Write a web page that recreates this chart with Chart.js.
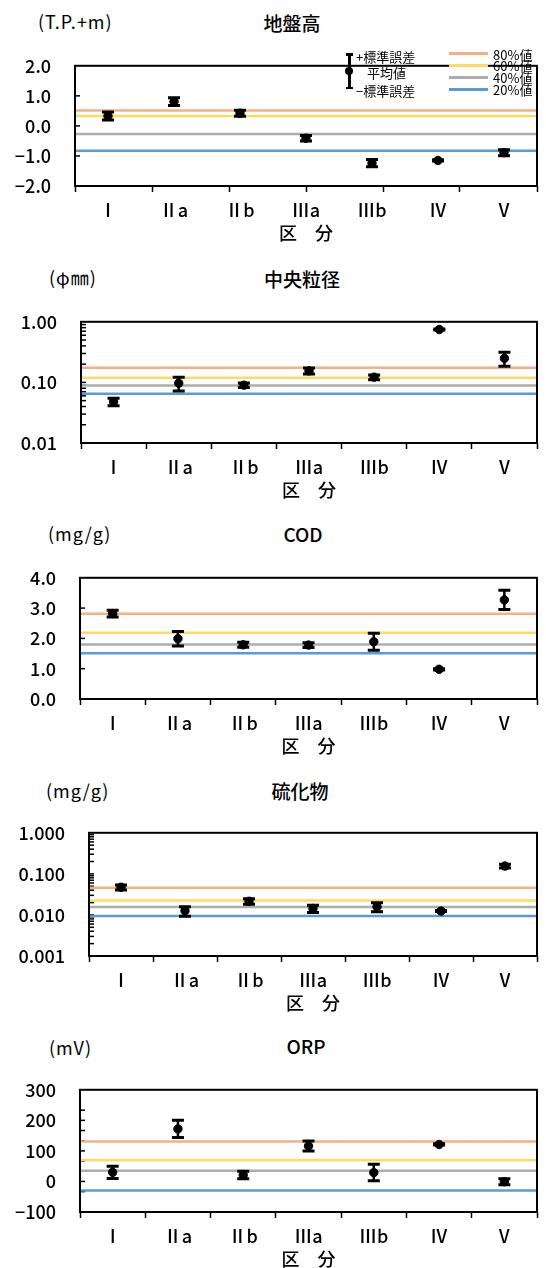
<!DOCTYPE html>
<html>
<head>
<meta charset="utf-8">
<script src="https://cdn.jsdelivr.net/npm/chart.js@4.4.0/dist/chart.umd.min.js"></script>
<style>
html,body{margin:0;padding:0;background:#fff;width:546px;height:1268px;overflow:hidden;}
body{font-family:'Noto Sans CJK JP',sans-serif;color:#000;}
#page{position:relative;width:546px;height:1268px;overflow:hidden;}
canvas{position:absolute;left:0;}
.title{position:absolute;white-space:nowrap;line-height:1;font-size:19px;font-weight:500;transform:translate(-50%,-50%);}
.unit{position:absolute;white-space:nowrap;line-height:1;font-size:18px;letter-spacing:1px;transform:translateY(-50%);}
.lg{position:absolute;white-space:nowrap;line-height:1;font-size:13px;transform:translateY(-50%);}
.blk{position:absolute;background:#000;}
.sw{position:absolute;height:3px;width:39px;}
</style>
</head>
<body>
<div id="page">
<div class="title" style="left:292px;top:22px;">地盤高</div>
<div class="unit" style="left:38px;top:21px;">(T.P.+m)</div>
<div class="title" style="left:302px;top:278px;">中央粒径</div>
<div class="unit" style="left:49px;top:277px;">(φ㎜)</div>
<div class="title" style="left:303px;top:533px;">COD</div>
<div class="unit" style="left:48px;top:533px;">(mg/g)</div>
<div class="title" style="left:300px;top:790px;">硫化物</div>
<div class="unit" style="left:46px;top:790px;">(mg/g)</div>
<div class="title" style="left:306px;top:1045px;">ORP</div>
<div class="unit" style="left:49px;top:1047px;">(mV)</div>

<canvas id="c1"></canvas>
<canvas id="c2"></canvas>
<canvas id="c3"></canvas>
<canvas id="c4"></canvas>
<canvas id="c5"></canvas>

<div id="legend1" style="position:absolute;left:0;top:0;z-index:5;">
  <div class="blk" style="left:348px;top:54px;width:2.5px;height:34px;"></div>
  <div class="blk" style="left:345.5px;top:53px;width:7.5px;height:2.5px;"></div>
  <div class="blk" style="left:345.5px;top:86.5px;width:7.5px;height:2.5px;"></div>
  <div class="blk" style="left:345px;top:67px;width:8px;height:8px;border-radius:50%;"></div>
  <div class="lg" style="left:356px;top:56px;">+標準誤差</div>
  <div class="lg" style="left:367px;top:72px;">平均値</div>
  <div class="lg" style="left:356px;top:90px;">−標準誤差</div>
  <div id="pctLegend"></div>
</div>
</div>

<script>
// ---------- shared ----------
const categories = ['Ⅰ', 'Ⅱa', 'Ⅱb', 'Ⅲa', 'Ⅲb', 'Ⅳ', 'Ⅴ'];
const percentileLabels = ['80%値', '60%値', '40%値', '20%値'];
const percentileColors = ['#F4B183', '#FFD966', '#ADADAD', '#5B9BD5'];

// ---------- 地盤高 (T.P.+m) ----------
const elevMean = [0.33, 0.81, 0.42, -0.41, -1.24, -1.15, -0.89];
const elevSE   = [0.13, 0.13, 0.10, 0.09, 0.12, 0.02, 0.10];
const elevPct  = [0.51, 0.33, -0.27, -0.83];
const elevTicks = [2, 1, 0, -1, -2];
const elevTickLabels = ['2.0', '1.0', '0.0', '−1.0', '−2.0'];

// ---------- 中央粒径 (φmm) ----------
const grainMean = [0.048, 0.097, 0.090, 0.155, 0.122, 0.745, 0.25];
const grainSE   = [0.007, 0.025, 0.008, 0.018, 0.011, 0.015, 0.065];
const grainPct  = [0.175, 0.119, 0.089, 0.065];
const grainTicks = [1, 0.1, 0.01];
const grainTickLabels = ['1.00', '0.10', '0.01'];

// ---------- COD (mg/g) ----------
const codMean = [2.82, 1.99, 1.79, 1.78, 1.89, 0.98, 3.27];
const codSE   = [0.11, 0.24, 0.08, 0.08, 0.28, 0.02, 0.32];
const codPct  = [2.81, 2.19, 1.80, 1.51];
const codTicks = [4, 3, 2, 1, 0];
const codTickLabels = ['4.0', '3.0', '2.0', '1.0', '0.0'];

// ---------- 硫化物 (mg/g) ----------
const sulfMean = [0.0472, 0.0126, 0.0215, 0.0144, 0.0158, 0.01245, 0.155];
const sulfSE   = [0.0065, 0.0033, 0.0033, 0.0029, 0.0039, 0.0004, 0.016];
const sulfPct  = [0.0457, 0.0225, 0.0156, 0.00946];
const sulfTicks = [1, 0.1, 0.01, 0.001];
const sulfTickLabels = ['1.000', '0.100', '0.010', '0.001'];

// ---------- ORP (mV) ----------
const orpMean = [30, 172, 21, 116, 29, 121, -1];
const orpSE   = [20, 28, 12, 16, 27, 2, 10];
const orpPct  = [131, 69, 35, -30];
const orpTicks = [300, 200, 100, 0, -100];
const orpTickLabels = ['300', '200', '100', '0', '−100'];

// minor tick marks drawn inside the left axis
function logMinor(minExp, maxExp) {
  const out = [];
  for (let e = minExp; e < maxExp; e++) {
    for (let d = 1; d <= 9; d++) out.push(d * Math.pow(10, e));
  }
  return out;
}
const elevInner = [1, 0, -1];
const grainInner = logMinor(-2, 0);
const codInner = [3, 2, 1];
const sulfInner = logMinor(-3, 0);
const orpInner = [233.3, 200, 166.7, 133.3, 100, 66.7, 33.3, 0, -33.3];

// ---------- plugins ----------
const framePlugin = {
  id: 'frame',
  afterDatasetsDraw(chart) {
    const { ctx, chartArea: a } = chart;
    ctx.save();
    ctx.strokeStyle = '#000';
    ctx.lineWidth = 2;
    ctx.strokeRect(a.left, a.top, a.right - a.left, a.bottom - a.top);
    ctx.restore();
  }
};
const innerTickPlugin = {
  id: 'innerTicks',
  beforeDatasetsDraw(chart, args, opts) {
    const { ctx, chartArea: a } = chart;
    const ys = chart.scales.y;
    ctx.save();
    ctx.strokeStyle = '#000';
    ctx.lineWidth = 1.5;
    (opts.values || []).forEach(v => {
      const py = ys.getPixelForValue(v);
      if (py <= a.top + 1 || py >= a.bottom - 1) return;
      ctx.beginPath();
      ctx.moveTo(a.left, py);
      ctx.lineTo(a.left + 5, py);
      ctx.stroke();
    });
    ctx.restore();
  }
};

Chart.defaults.font.family = "'Noto Sans CJK JP', sans-serif";
Chart.defaults.color = '#000';

const CANVAS_W = 546;
const TOP_PAD = 15;
const X_AXIS_H = 60;
const TICK_FONT = { size: 18, weight: '500' };

function makeChart(cfg) {
  const cv = document.getElementById(cfg.id);
  const h = cfg.plotBottom - cfg.plotTop + TOP_PAD + X_AXIS_H;
  cv.width = CANVAS_W; cv.height = h;
  cv.style.width = CANVAS_W + 'px'; cv.style.height = h + 'px';
  cv.style.top = (cfg.plotTop - TOP_PAD) + 'px';

  const n = categories.length;
  const xTicks = [];
  for (let k = 0; k <= cfg.markCount; k++) xTicks.push({ value: k * n / cfg.markCount, mark: true, cat: '' });
  categories.forEach((c, i) => xTicks.push({ value: i + 0.5, mark: false, cat: c }));
  xTicks.sort((a, b) => a.value - b.value);

  const datasets = [];
  cfg.pct.forEach((v, i) => {
    datasets.push({
      label: percentileLabels[i],
      data: [{ x: 0, y: v }, { x: n, y: v }],
      borderColor: percentileColors[i], borderWidth: 2.5,
      pointRadius: 0, order: 3
    });
  });
  const stem = [];
  const caps = [];
  const means = [];
  cfg.mean.forEach((m, i) => {
    const x = i + 0.5;
    stem.push({ x, y: m - cfg.se[i] }, { x, y: m + cfg.se[i] }, { x, y: null });
    caps.push({ x, y: m - cfg.se[i] }, { x, y: m + cfg.se[i] });
    means.push({ x, y: m });
  });
  datasets.push({ label: 'se', data: stem, borderColor: '#000', borderWidth: 2.5, pointRadius: 0, spanGaps: false, order: 2 });
  datasets.push({ label: 'cap', data: caps, showLine: false, pointStyle: 'line', pointRadius: 6, borderColor: '#000', pointBorderWidth: 3, order: 1 });
  datasets.push({ label: 'mean', data: means, showLine: false, pointStyle: 'circle', pointRadius: 4.2, backgroundColor: '#000', borderColor: '#000', pointBorderWidth: 1, order: 0 });

  return new Chart(cv, {
    type: 'line',
    data: { datasets },
    plugins: [framePlugin, innerTickPlugin],
    options: {
      responsive: false, animation: false, devicePixelRatio: 1,
      layout: { padding: { top: TOP_PAD, left: 0, right: CANVAS_W - cfg.plotRight, bottom: 0 } },
      plugins: {
        legend: { display: false }, tooltip: { enabled: false }, title: { display: false },
        innerTicks: { values: cfg.inner }
      },
      scales: {
        x: {
          type: 'linear', min: 0, max: n, position: 'bottom',
          afterBuildTicks(s) { s.ticks = xTicks.map(t => Object.assign({}, t)); },
          afterFit(s) { s.height = X_AXIS_H; },
          grid: {
            drawOnChartArea: false, drawTicks: true, tickLength: 6, tickWidth: 1.5,
            tickColor: ctx => (ctx.tick && ctx.tick.mark) ? '#000' : 'rgba(0,0,0,0)'
          },
          border: { display: false },
          ticks: {
            autoSkip: false, maxRotation: 0, minRotation: 0, padding: 7, color: '#000',
            font: TICK_FONT,
            callback: (v, i, t) => t[i].cat || ''
          },
          title: { display: true, text: '区　分', color: '#000', font: { size: 18, weight: '500' }, padding: { top: 0, bottom: 2 } }
        },
        y: {
          type: cfg.yType, min: cfg.yMin, max: cfg.yMax,
          afterBuildTicks(s) { s.ticks = cfg.yTicks.map(v => ({ value: v })); },
          afterFit(s) { s.width = cfg.plotLeft; },
          grid: { display: false, drawTicks: false },
          border: { display: false },
          ticks: { padding: 24, color: '#000', font: TICK_FONT, callback: (v, i) => cfg.yLabels[i] }
        }
      }
    }
  });
}

makeChart({ id: 'c1', plotLeft: 75, plotRight: 541.5, plotTop: 46, plotBottom: 186, markCount: 6,
  yType: 'linear', yMin: -2, yMax: 2, yTicks: elevTicks, yLabels: elevTickLabels,
  mean: elevMean, se: elevSE, pct: elevPct, inner: elevInner });
makeChart({ id: 'c2', plotLeft: 81, plotRight: 545, plotTop: 302, plotBottom: 443, markCount: 7,
  yType: 'logarithmic', yMin: 0.01, yMax: 1, yTicks: grainTicks, yLabels: grainTickLabels,
  mean: grainMean, se: grainSE, pct: grainPct, inner: grainInner });
makeChart({ id: 'c3', plotLeft: 80, plotRight: 545, plotTop: 558, plotBottom: 699, markCount: 7,
  yType: 'linear', yMin: 0, yMax: 4, yTicks: codTicks, yLabels: codTickLabels,
  mean: codMean, se: codSE, pct: codPct, inner: codInner });
makeChart({ id: 'c4', plotLeft: 89, plotRight: 552, plotTop: 813, plotBottom: 956, markCount: 7,
  yType: 'logarithmic', yMin: 0.001, yMax: 1, yTicks: sulfTicks, yLabels: sulfTickLabels,
  mean: sulfMean, se: sulfSE, pct: sulfPct, inner: sulfInner });
makeChart({ id: 'c5', plotLeft: 80, plotRight: 545, plotTop: 1070, plotBottom: 1212, markCount: 7,
  yType: 'linear', yMin: -100, yMax: 300, yTicks: orpTicks, yLabels: orpTickLabels,
  mean: orpMean, se: orpSE, pct: orpPct, inner: orpInner });

// percentile legend (chart 1)
const pl = document.getElementById('pctLegend');
const rowsY = [53.5, 65, 77, 89];
percentileLabels.forEach((lab, i) => {
  const sw = document.createElement('div');
  sw.className = 'sw';
  sw.style.left = '449px';
  sw.style.top = (rowsY[i] - 1.5) + 'px';
  sw.style.background = percentileColors[i];
  pl.appendChild(sw);
  const tx = document.createElement('div');
  tx.className = 'lg';
  tx.style.left = '493px';
  tx.style.top = rowsY[i] + 'px';
  tx.textContent = lab;
  pl.appendChild(tx);
});
</script>
</body>
</html>
